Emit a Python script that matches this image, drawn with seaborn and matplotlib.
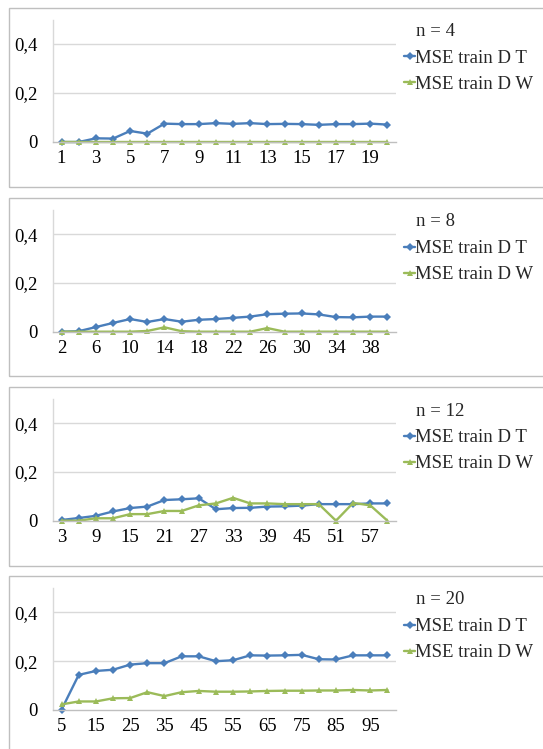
import numpy as np
import pandas as pd
import matplotlib
matplotlib.use("Agg")
import matplotlib.pyplot as plt
import seaborn as sns
from matplotlib.patches import Rectangle
from matplotlib.ticker import FuncFormatter, FixedLocator

# ---- data ----
x_n4 = list(range(1, 21))
t_n4 = [0.0, 0.0, 0.015, 0.014, 0.045, 0.034, 0.075, 0.073, 0.073, 0.077,
        0.074, 0.077, 0.073, 0.074, 0.073, 0.070, 0.073, 0.073, 0.075, 0.071]
w_n4 = [0.0] * 20

x_n8 = list(range(2, 41, 2))
t_n8 = [0.0, 0.002, 0.019, 0.036, 0.052, 0.040, 0.052, 0.041, 0.049, 0.052,
        0.057, 0.062, 0.072, 0.074, 0.075, 0.071, 0.060, 0.059, 0.062, 0.062]
w_n8 = [0.0, 0.0, 0.0, 0.0, 0.0, 0.003, 0.018, 0.002, 0.0, 0.0,
        0.0, 0.0, 0.015, 0.0, 0.0, 0.0, 0.0, 0.0, 0.0, 0.0]

x_n12 = list(range(3, 61, 3))
t_n12 = [0.003, 0.011, 0.020, 0.038, 0.052, 0.058, 0.085, 0.088, 0.092, 0.047,
         0.052, 0.053, 0.058, 0.059, 0.062, 0.068, 0.068, 0.068, 0.071, 0.071]
w_n12 = [0.0, 0.0, 0.010, 0.010, 0.027, 0.027, 0.040, 0.040, 0.063, 0.071,
         0.094, 0.071, 0.071, 0.068, 0.068, 0.068, 0.0, 0.073, 0.063, 0.0]

x_n20 = list(range(5, 101, 5))
t_n20 = [0.002, 0.144, 0.160, 0.165, 0.186, 0.192, 0.192, 0.220, 0.220, 0.200,
         0.204, 0.224, 0.223, 0.224, 0.226, 0.208, 0.207, 0.224, 0.224, 0.224]
w_n20 = [0.023, 0.035, 0.035, 0.048, 0.049, 0.073, 0.057, 0.073, 0.078, 0.075,
         0.075, 0.076, 0.078, 0.079, 0.079, 0.080, 0.080, 0.082, 0.080, 0.082]

panels = [("n = 4", x_n4, t_n4, w_n4),
          ("n = 8", x_n8, t_n8, w_n8),
          ("n = 12", x_n12, t_n12, w_n12),
          ("n = 20", x_n20, t_n20, w_n20)]
series_names = ["MSE train D T", "MSE train D W"]
y_ticks = [0, 0.2, 0.4]

# ---- style ----
sns.set_theme(style="white")
plt.rcParams["font.family"] = ["Liberation Serif", "DejaVu Serif"]

BLUE = "#4A7EBB"
GREEN = "#9BBB59"
GRID = "#D9D9D9"
AXIS = "#BFBFBF"
FS = 13.5

W, H = 543, 749
fig = plt.figure(figsize=(W / 100, H / 100), dpi=100)

# panel geometry in pixels: (box_top, box_bottom, axis_top, axis_zero)
geo = [(8, 187, 19.5, 142),
       (198, 376, 210, 331.7),
       (387, 566, 399, 520.7),
       (576, 770, 588, 710)]

ax_left, ax_right = 53, 396

for (title, xs, ts, ws), (bt, bb, at, az) in zip(panels, geo):
    # panel frame
    fig.add_artist(Rectangle((9 / W, 1 - bb / H), (560 - 9) / W, (bb - bt) / H,
                             transform=fig.transFigure, fill=False,
                             edgecolor=AXIS, lw=1.0, zorder=0))
    ax = fig.add_axes([ax_left / W, 1 - az / H, (ax_right - ax_left) / W, (az - at) / H])
    df = pd.DataFrame({
        "idx": list(range(len(xs))) * 2,
        "val": list(ts) + list(ws),
        "series": [series_names[0]] * len(xs) + [series_names[1]] * len(xs),
    })
    sns.lineplot(data=df, x="idx", y="val", hue="series", style="series",
                 markers={series_names[0]: "D", series_names[1]: "^"},
                 dashes=False, palette={series_names[0]: BLUE, series_names[1]: GREEN},
                 linewidth=1.7, markersize=4, markeredgewidth=0, ax=ax, legend=True,
                 clip_on=False)
    ax.set_xlim(-0.5, len(xs) - 0.5)
    ax.set_ylim(0, 0.5)
    ax.set_xlabel("")
    ax.set_ylabel("")
    for s in ["top", "right"]:
        ax.spines[s].set_visible(False)
    ax.spines["left"].set_color(GRID)
    ax.spines["left"].set_linewidth(1.0)
    ax.spines["bottom"].set_color(AXIS)
    ax.spines["bottom"].set_linewidth(1.0)
    ax.set_yticks(y_ticks)
    ax.yaxis.set_major_formatter(FuncFormatter(lambda v, p: "0" if v == 0 else f"{v:.1f}".replace(".", ",")))
    ax.tick_params(axis="y", length=0, pad=11, labelsize=FS)
    for yv in y_ticks[1:]:
        ax.axhline(yv, color=GRID, lw=1.0, zorder=0)
    # x ticks: labels every other category, tick marks at category boundaries
    ax.set_xticks(list(range(0, len(xs), 2)))
    ax.set_xticklabels([str(v) for v in xs[::2]])
    ax.tick_params(axis="x", length=0, pad=6, labelsize=FS)
    ax.xaxis.set_minor_locator(FixedLocator([i + 0.5 for i in range(-1, len(xs))]))
    ax.tick_params(axis="x", which="minor", length=4, color=AXIS, width=1.0, direction="out")
    ax.tick_params(axis="both", colors="black", which="major")
    ax.patch.set_alpha(0)

    handles, labels = ax.get_legend_handles_labels()
    leg = ax.legend(handles, labels, title=title, loc="upper left",
                    bbox_to_anchor=(404 / W, 1 - (at + 3.5) / H),
                    bbox_transform=fig.transFigure, frameon=False,
                    fontsize=FS, title_fontsize=FS, handlelength=0.6,
                    handletextpad=0.0, labelspacing=0.48, borderpad=0,
                    borderaxespad=0, alignment="left", markerscale=1.0)
    leg._legend_box.sep = 7
    leg.get_title().set_position((12, 0))
    for line in leg.get_lines():
        line.set_linewidth(1.7)

fig.savefig("out.png", dpi=100)
